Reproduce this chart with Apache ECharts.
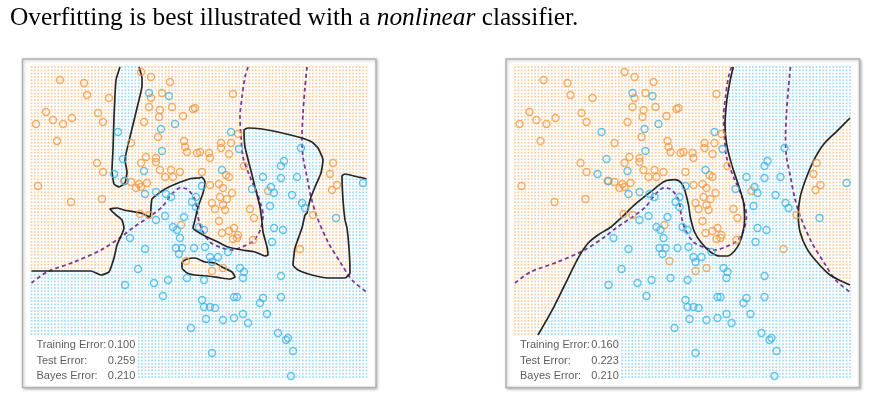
<!DOCTYPE html>
<html><head><meta charset="utf-8">
<script src="https://cdn.jsdelivr.net/npm/echarts@6/dist/echarts.min.js"></script>
<style>html,body{margin:0;padding:0;background:#fff}#c{width:874px;height:406px}</style>
</head><body><div id="c"></div>
<script>
// ---- training data (same sample in both panels); units: x1, x2 ----
const orangePoints = [
[30,300],[54,297],[57,285],[79,282],[16,268],[23,260],[33,256],[42,262],[6,256],[68,267],[73,258],[27,239],[67,217],[73,208],[8,194],[41,178],[72,181],
[111,308],[121,303],[140,298],[132,287],[121,282],[142,273],[119,273],[130,270],[129,263],[114,258],[153,264],[163,271],
[101,237],[128,243],[154,239],[155,233],[157,228],[167,227],[116,223],[126,222],[126,218],[111,217],[130,210],[141,210],[150,208],[135,203],[143,203],
[94,199],[101,198],[109,196],[111,193],[117,197],[106,192],[110,166],[119,165],
[203,286],[165,272],[208,246],[191,237],[191,232],[201,237],[199,226],[170,228],[179,227],[180,222],[172,208],[214,214],[196,205],[199,203],
[180,195],[189,196],[193,192],[202,187],[190,183],[197,181],[182,177],[193,175],[185,171],[195,170],[238,189],[220,171],[224,162],
[303,217],[300,206],[307,195],[302,190],[283,165],[151,155],[156,119],[189,159],
[192,147],[199,149],[204,152],[208,145],[207,142],[203,141],[223,140],[182,109],[193,112],[270,131]
];
const bluePoints = [
[119,287],[139,284],[131,251],[145,256],[88,248],[132,229],[93,221],[114,209],[84,206],[95,199],[115,186],[126,188],[136,186],[141,183],[135,164],[154,163],[162,178],[166,173],
[201,248],[209,231],[192,210],[172,194],[166,183],[233,203],[251,214],[254,219],[271,232],[251,202],[267,203],[241,193],[244,187],[222,191],[262,185],[240,174],[272,177],[275,172],[333,197],[306,162],
[100,142],[115,131],[108,111],[95,95],[124,97],[138,100],[133,84],[157,102],[161,52],[126,160],[143,153],[147,150],[150,142],[146,132],[152,132],[164,132],[149,126],[169,153],[174,150],
[244,152],[253,150],[242,138],[175,133],[198,128],[180,123],[188,123],[182,118],[210,112],[214,108],[213,102],[251,104],[174,100],[172,80],[174,73],[180,73],[185,72],[204,83],[207,83],[233,82],[230,77],[251,83],[237,66],[213,66],[204,62],[218,57],[176,61],[193,60],[248,47],[256,40],[258,42],[263,29],[182,27],[261,4]
];
// ---- decision boundaries ----
const overfitBoundary = [
[1.5,109],[61,109],[71,105],[79,108],[84,122],[87,135],[94,152],[92,160],[86,165],[80,171],[87,172],[94,170],[111,167],[120,163],[121,173],[122,181],[128,186],[135,191],[148,197],[161,201.5],[169,202],[172,203],[175,198],[173,187],[168,173],[165,160],[163,152],[165,150],[175,144],[188,138],[198,133],[212,130],[225,128],[235,124],[238,125],[237,133],[233,148],[232,158],[230,173],[225,193],[220,213],[215,233],[214,250],[218,252],[232,251],[248,248],[272,242],[282,238],[288,232],[293,220],[291,207],[285,193],[280,180],[277,167],[275,165],[272,152],[265,132],[263,115],[268,110],[282,105],[298,102],[315,102],[320,107],[319,132],[317,152],[315,160],[313,180],[312,204],[315,206],[328,203],[333,202],[336.5,201]
];
const overfitSliver = [[90,313],[86,300],[84,263],[83,230],[82,210],[84,196],[89,193],[95,197],[97,208],[95,220],[100,243],[108,276],[112,294],[112,302],[109,313]];
const overfitIsland = [[152,118],[157,121],[165,122],[175,118],[185,117],[192,113],[202,108],[205,103],[200,101],[191,102],[178,104],[165,105],[157,107],[152,112]];
const smoothBoundaryLeft = [
[24.5,45],[37.8,68.3],[51.2,95],[64.5,121.7],[74.5,136.7],[84.5,145],[97.8,153.3],[108.5,163],[121.2,175.3],[137.8,188.7],[151.2,198.7],[161.2,200.3],[167.8,197],[171.5,189],[175,175],[177,162],[181,148],[188,137],[197,128],[206,124],[214,124],[221,129],[226,137],[229.5,148],[231,159],[231,166],[229.8,178.7],[224.8,195.3],[218.2,215.3],[213.2,235.3],[211.5,255.3],[213.2,278.7],[216.5,298.7],[219.8,313]
];
const smoothBoundaryRight = [[336.5,262],[323.2,248.7],[309.8,235.3],[299.8,218.7],[291.5,198.7],[286.5,182],[284.8,165],[286.5,148.3],[293.2,131.7],[303.2,118.3],[316.5,105],[334.8,95.7],[336.5,95]];
const bayesBoundary1 = [[1.5,97],[17,108],[44,118],[71,130],[91,143],[104,153],[119,163],[132,173],[142,186],[150,192],[157,191],[165,180],[168,163],[172,150],[180,138],[192,132],[202,130],[212,133],[222,138],[226,142],[231,152],[233,165],[231,175],[227,187],[220,203],[213,223],[211,243],[210,263],[212,283],[215,303],[218,313]];
const bayesBoundary2 = [[277,313],[275,293],[273,267],[272,243],[273,223],[277,203],[281,183],[287,163],[298,138],[312,115],[322,100],[336.5,88]];
// ---- annotation text ----
const errorNames = ['Training Error:', 'Test Error:', 'Bayes Error:'];
const overfitErrors = ['0.100', '0.259', '0.210'];
const smoothErrors = ['0.160', '0.223', '0.210'];
const errorRowY = [35, 19.3, 4.3];
const nameX = 6, valueX = 77.3;
// lattice of the prediction grid
const latticeX = {from: 1.5, to: 336.5, count: 101};
const latticeY = {from: 3, to: 313, count: 95};
const textBox = {x: 106, y: 43.5};

function inside(pt, poly) {
  let c = false;
  for (let i = 0, j = poly.length - 1; i < poly.length; j = i++) {
    const xi = poly[i][0], yi = poly[i][1], xj = poly[j][0], yj = poly[j][1];
    if (((yi > pt[1]) !== (yj > pt[1])) && (pt[0] < (xj - xi) * (pt[1] - yi) / (yj - yi) + xi)) c = !c;
  }
  return c;
}
const last = a => a[a.length - 1];
const leftPoly = [[-50, overfitBoundary[0][1]], ...overfitBoundary, [400, last(overfitBoundary)[1]], [400, 400], [-50, 400]];
const sliverPoly = [[overfitSliver[0][0], 400], ...overfitSliver, [last(overfitSliver)[0], 400]];
const rightPolyA = [[-50, -10], [-7, -10], ...smoothBoundaryLeft, [last(smoothBoundaryLeft)[0], 400], [-50, 400]];
const rightPolyB = [...smoothBoundaryRight, [400, last(smoothBoundaryRight)[1]], [400, smoothBoundaryRight[0][1]]];

function lattice(classify) {
  const o = [], b = [];
  for (let i = 0; i < latticeX.count; i++) {
    const x = latticeX.from + i * (latticeX.to - latticeX.from) / (latticeX.count - 1);
    for (let j = 0; j < latticeY.count; j++) {
      const y = latticeY.from + j * (latticeY.to - latticeY.from) / (latticeY.count - 1);
      if (x < textBox.x && y < textBox.y) continue;
      (classify([x, y]) ? o : b).push([x, y]);
    }
  }
  return [o, b];
}
const leftGrid = lattice(p => (inside(p, leftPoly) && !inside(p, sliverPoly)) || inside(p, overfitIsland));
const rightGrid = lattice(p => inside(p, rightPolyA) || inside(p, rightPolyB));

const C = {
  dotO: '#f8bf8a', dotB: '#8dd1f0', ptO: '#f29a42', ptB: '#3db5e6',
  black: '#262626', purple: '#7b3a96', text: '#333'
};

function panelSeries(k, grid, curves, errs) {
  const s = [];
  const ax = {xAxisIndex: k, yAxisIndex: k};
  s.push(Object.assign({type: 'scatter', data: grid[0], symbol: 'rect', symbolSize: 1.7, large: true, largeThreshold: 500, itemStyle: {color: C.dotO}, silent: true, z: 1}, ax));
  s.push(Object.assign({type: 'scatter', data: grid[1], symbol: 'rect', symbolSize: 1.7, large: true, largeThreshold: 500, itemStyle: {color: C.dotB}, silent: true, z: 1}, ax));
  [bayesBoundary1, bayesBoundary2].forEach(d => s.push(Object.assign({
    type: 'line', data: d, showSymbol: false, smooth: 0.3, silent: true, z: 3,
    lineStyle: {color: C.purple, width: 1.8, type: [4, 3]}
  }, ax)));
  curves.forEach(c => s.push(Object.assign({
    type: 'line', data: c.d, showSymbol: false, smooth: c.s, silent: true, z: 4,
    lineStyle: {color: C.black, width: 1.7}
  }, ax)));
  s.push(Object.assign({type: 'scatter', data: orangePoints, symbol: 'circle', symbolSize: 7, z: 5,
    itemStyle: {color: 'rgba(0,0,0,0)', borderColor: C.ptO, borderWidth: 1.4}}, ax));
  s.push(Object.assign({type: 'scatter', data: bluePoints, symbol: 'circle', symbolSize: 7, z: 5,
    itemStyle: {color: 'rgba(0,0,0,0)', borderColor: C.ptB, borderWidth: 1.4}}, ax));
  const lab = [];
  errorNames.forEach((n, i) => { lab.push([nameX, errorRowY[i], n]); lab.push([valueX, errorRowY[i], errs[i]]); });
  s.push(Object.assign({type: 'scatter', data: lab, symbolSize: 1, z: 6, silent: true,
    itemStyle: {color: 'rgba(0,0,0,0)'},
    label: {show: true, position: 'right', distance: 0, formatter: p => p.data[2],
      color: C.text, fontSize: 11, fontFamily: 'Liberation Sans, Arial, sans-serif'}}, ax));
  return s;
}

const gridBox = {top: 59, width: 353.5, height: 328.5, show: true, backgroundColor: '#fff',
  borderColor: '#b3b3b3', borderWidth: 1.5, shadowColor: 'rgba(0,0,0,0.25)', shadowBlur: 3, shadowOffsetX: 1, shadowOffsetY: 1};
const xa = i => ({type: 'value', gridIndex: i, min: -7.5, max: 346, show: false});
const ya = i => ({type: 'value', gridIndex: i, min: -7.5, max: 321, show: false});

const chart = echarts.init(document.getElementById('c'), null, {renderer: 'canvas'});
chart.setOption({
  animation: false,
  title: {
    text: '{r|Overfitting is best illustrated with a }{i|nonlinear}{r| classifier.}',
    left: 5, top: 1,
    textStyle: {fontWeight: 'normal', rich: {
      r: {fontFamily: 'Liberation Serif, Times New Roman, serif', fontSize: 25.4, fontWeight: 'normal', color: '#000'},
      i: {fontFamily: 'Liberation Serif, Times New Roman, serif', fontSize: 25.4, fontWeight: 'normal', fontStyle: 'italic', color: '#000'}
    }}
  },
  grid: [Object.assign({left: 22.5}, gridBox), Object.assign({left: 506}, gridBox)],
  xAxis: [xa(0), xa(1)],
  yAxis: [ya(0), ya(1)],
  series: [
    ...panelSeries(0, leftGrid, [
      {d: overfitBoundary, s: 0.15}, {d: overfitSliver, s: 0.15}, {d: [...overfitIsland, overfitIsland[0]], s: 0.15}
    ], overfitErrors),
    ...panelSeries(1, rightGrid, [
      {d: smoothBoundaryLeft, s: 0.3}, {d: smoothBoundaryRight, s: 0.3}
    ], smoothErrors)
  ]
});
</script></body></html>
